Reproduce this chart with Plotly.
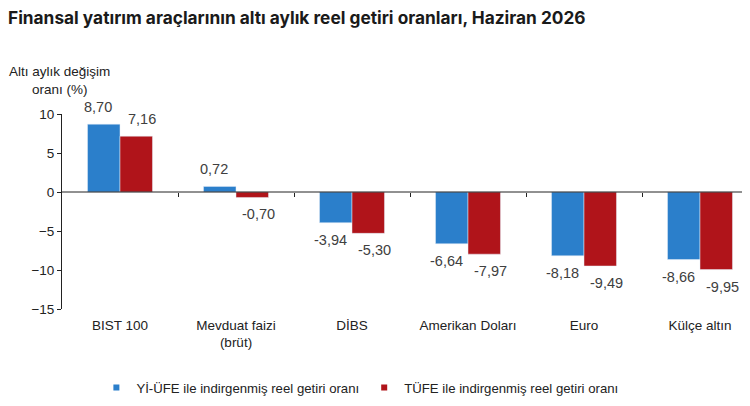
import plotly.graph_objects as go

categories = ["BIST 100", "Mevduat faizi<br>(brüt)", "DİBS", "Amerikan Doları", "Euro", "Külçe altın"]
yi_ufe = [8.70, 0.72, -3.94, -6.64, -8.18, -8.66]
tufe = [7.16, -0.70, -5.30, -7.97, -9.49, -9.95]
y_ticks = [10, 5, 0, -5, -10, -15]
names = ["Yİ-ÜFE ile indirgenmiş reel getiri oranı", "TÜFE ile indirgenmiş reel getiri oranı"]

blue = "#2b7fcb"
red = "#b0141a"
font = "Liberation Sans, Arial, sans-serif"

fig = go.Figure()
for vals, col, nm in [(yi_ufe, blue, names[0]), (tufe, red, names[1])]:
    fig.add_trace(go.Bar(x=categories, y=vals, name=nm, marker_color=col, showlegend=False))
    # legend proxy with small square symbol
    fig.add_trace(go.Scatter(x=[None], y=[None], mode="markers", name=nm,
                             marker=dict(symbol="square", size=6, color=col)))

# zero line with category boundary ticks
fig.add_trace(go.Scatter(x=[-0.5, 5.5], y=[0, 0], xaxis="x2", mode="lines",
                         line=dict(color="#222", width=1), showlegend=False, hoverinfo="skip"))

annotations = []
for vals, side in [(yi_ufe, -1), (tufe, 1)]:
    for c, v in zip(categories, vals):
        annotations.append(dict(
            x=c, y=v, text=f"{v:.2f}".replace(".", ","), showarrow=False,
            xshift=side * 22, yshift=7 if v >= 0 else -7,
            yanchor="bottom" if v >= 0 else "top",
            font=dict(size=14.5, color="#404040", family=font)))

annotations.append(dict(text="Altı aylık değişim<br>oranı (%)", xref="paper", yref="paper",
                        x=-0.003, y=1.0, xanchor="center", yanchor="bottom", yshift=15,
                        showarrow=False, align="center", font=dict(size=13.5, color="#222")))

fig.update_layout(
    width=750, height=406,
    paper_bgcolor="white", plot_bgcolor="white",
    barmode="group", bargap=0.44, bargroupgap=0,
    margin=dict(l=54, r=0, t=106, b=105),
    font=dict(family=font, size=13, color="#333"),
    title=dict(text="<b>Finansal yatırım araçlarının altı aylık reel getiri oranları, Haziran 2026</b>",
               x=0, xanchor="left", y=0.975, yanchor="middle", pad=dict(l=0),
               font=dict(family="Inter, sans-serif", size=17.3, color="#1a1a1a")),
    xaxis=dict(range=[-0.5, 5.5], showline=False, ticks="", showgrid=False,
               tickfont=dict(size=13.5, color="#222"), ticklabelstandoff=6),
    xaxis2=dict(overlaying="x", anchor="free", position=0.6, range=[-0.5, 5.5],
                showline=False, showgrid=False, ticks="outside", ticklen=4, tickcolor="#222",
                tickvals=[0.5, 1.5, 2.5, 3.5, 4.5], showticklabels=False, zeroline=False),
    yaxis=dict(range=[-15, 10], tickvals=y_ticks, showgrid=False, zeroline=False,
               showline=True, linecolor="#222", linewidth=1, ticks="outside", ticklen=4,
               tickcolor="#222", tickfont=dict(size=13.5, color="#222")),
    legend=dict(orientation="h", x=0.428, xanchor="center", y=-0.405, yanchor="middle",
                font=dict(size=13.2, color="#222"), itemwidth=30, traceorder="normal"),
    annotations=annotations,
)

fig.write_html("out.html")
